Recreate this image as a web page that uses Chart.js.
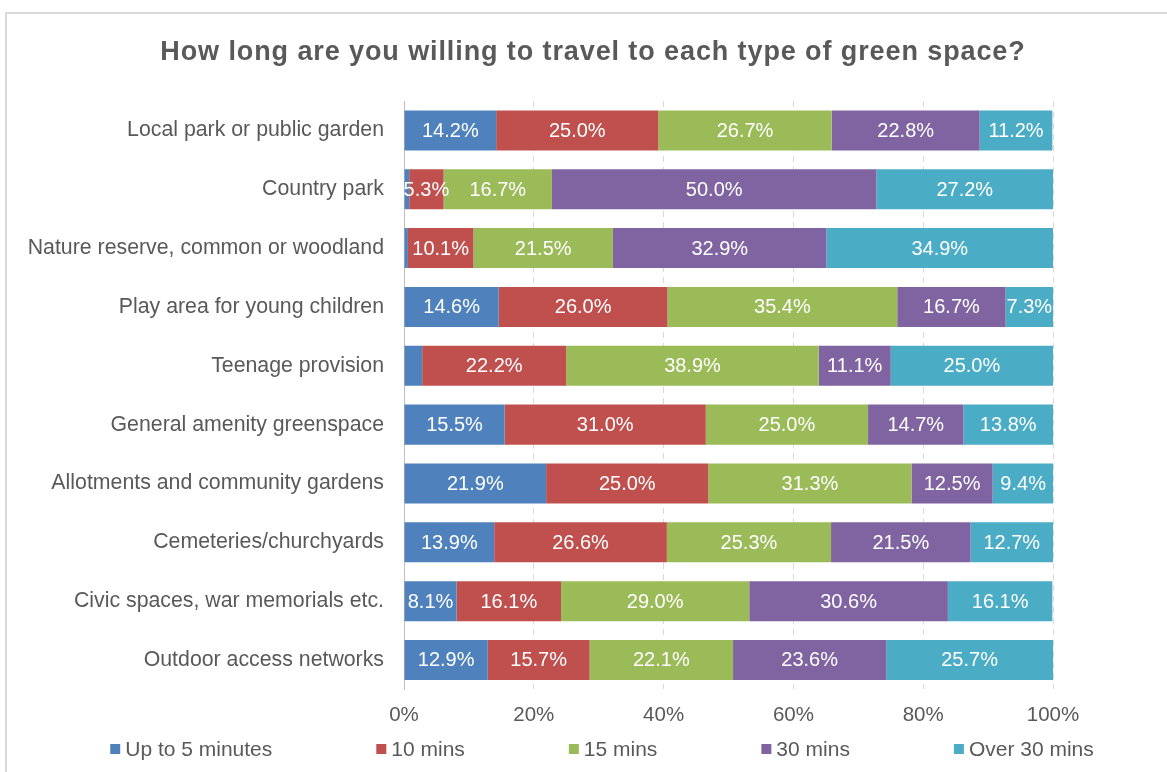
<!DOCTYPE html>
<html>
<head>
<meta charset="utf-8">
<script src="https://cdn.jsdelivr.net/npm/chart.js@4"></script>
<style>
    html, body { margin: 0; padding: 0; background: #fff; }
    #wrap { position: relative; width: 1167px; height: 772px; overflow: hidden; }
    #frame { position: absolute; left: 5px; top: 12px; width: 1200px; height: 800px; border-top: 2px solid #d9d9d9; border-left: 2px solid #d9d9d9; }
    #chart { position: absolute; left: 0; top: 0; }
</style>
</head>
<body>
<div id="wrap">
    <div id="frame"></div>
    <canvas id="chart" width="1167" height="772"></canvas>
</div>
<script>
// Green space travel time survey
const title = 'How long are you willing to travel to each type of green space?';
const categories = [
    'Local park or public garden',
    'Country park',
    'Nature reserve, common or woodland',
    'Play area for young children',
    'Teenage provision',
    'General amenity greenspace',
    'Allotments and community gardens',
    'Cemeteries/churchyards',
    'Civic spaces, war memorials etc.',
    'Outdoor access networks'
];
const seriesNames = ['Up to 5 minutes', '10 mins', '15 mins', '30 mins', 'Over 30 mins'];
const upTo5 = [14.2, 0.8, 0.6, 14.6, 2.8, 15.5, 21.9, 13.9, 8.1, 12.9];
const mins10 = [25.0, 5.3, 10.1, 26.0, 22.2, 31.0, 25.0, 26.6, 16.1, 15.7];
const mins15 = [26.7, 16.7, 21.5, 35.4, 38.9, 25.0, 31.3, 25.3, 29.0, 22.1];
const mins30 = [22.8, 50.0, 32.9, 16.7, 11.1, 14.7, 12.5, 21.5, 30.6, 23.6];
const over30 = [11.2, 27.2, 34.9, 7.3, 25.0, 13.8, 9.4, 12.7, 16.1, 25.7];
const xTicks = [0, 20, 40, 60, 80, 100];

const colors = ['#4F81BD', '#C0504D', '#9BBB59', '#8064A2', '#4BACC6'];
const FONT = "'Liberation Sans', Arial, sans-serif";
const TEXT = '#595959';
const LABEL_MIN = 3; // segments smaller than this get no label

const segmentLabels = {
    id: 'segmentLabels',
    afterDatasetsDraw(chart) {
        const ctx = chart.ctx;
        ctx.save();
        ctx.font = '20px ' + FONT;
        ctx.fillStyle = '#fff';
        ctx.textAlign = 'center';
        ctx.textBaseline = 'middle';
        chart.data.datasets.forEach((ds, i) => {
            chart.getDatasetMeta(i).data.forEach((bar, j) => {
                const v = ds.data[j];
                if (v < LABEL_MIN) return;
                const c = bar.getCenterPoint();
                ctx.fillText(v.toFixed(1) + '%', c.x, c.y + 1);
            });
        });
        ctx.restore();
    }
};

// title and legend drawn by hand so spacing matches the original
const titleAndLegend = {
    id: 'titleAndLegend',
    afterDraw(chart) {
        const ctx = chart.ctx;
        ctx.save();
        ctx.font = 'bold 27px ' + FONT;
        ctx.letterSpacing = '0.9px';
        ctx.fillStyle = TEXT;
        ctx.textAlign = 'center';
        ctx.textBaseline = 'middle';
        ctx.fillText(title, 593, 53);
        ctx.letterSpacing = '0px';

        ctx.textAlign = 'left';
        ctx.font = '21px ' + FONT;
        const box = 10, gapBox = 5, gapItem = 104, y = 749;
        const widths = seriesNames.map(n => box + gapBox + ctx.measureText(n).width);
        const total = widths.reduce((a, b) => a + b, 0) + gapItem * (widths.length - 1);
        let x = 602 - total / 2;
        seriesNames.forEach((n, i) => {
            ctx.fillStyle = colors[i];
            ctx.fillRect(x, y - box / 2, box, box);
            ctx.fillStyle = TEXT;
            ctx.fillText(n, x + box + gapBox, y + 1);
            x += widths[i] + gapItem;
        });
        ctx.restore();
    }
};

const seriesData = [upTo5, mins10, mins15, mins30, over30];

new Chart(document.getElementById('chart'), {
    type: 'bar',
    data: {
        labels: categories,
        datasets: seriesNames.map((name, i) => ({
            label: name,
            data: seriesData[i],
            backgroundColor: colors[i],
            borderWidth: 0,
            barPercentage: 0.68,
            categoryPercentage: 1
        }))
    },
    options: {
        indexAxis: 'y',
        responsive: false,
        animation: false,
        layout: { padding: { left: 0, right: 114, top: 101, bottom: 30 } },
        plugins: {
            legend: { display: false },
            tooltip: { enabled: false },
            title: { display: false }
        },
        scales: {
            x: {
                stacked: true,
                min: 0,
                max: 100,
                afterBuildTicks(scale) { scale.ticks = xTicks.map(v => ({ value: v })); },
                ticks: {
                    color: TEXT,
                    font: { family: FONT, size: 20.5 },
                    padding: 14,
                    callback: v => v + '%'
                },
                grid: { color: '#d9d9d9', drawTicks: false },
                border: { display: false, dash: [6, 5] }
            },
            y: {
                stacked: true,
                afterFit(scale) { scale.width = 404; },
                ticks: {
                    color: TEXT,
                    font: { family: FONT, size: 21.3 },
                    padding: 20
                },
                grid: { display: false, drawTicks: false },
                border: { display: true, color: '#bfbfbf', width: 1 }
            }
        }
    },
    plugins: [segmentLabels, titleAndLegend]
});
</script>
</body>
</html>
